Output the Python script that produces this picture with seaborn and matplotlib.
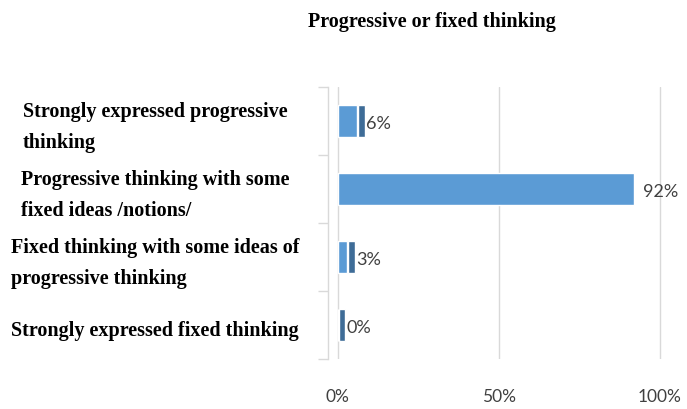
import matplotlib
matplotlib.use("Agg")
import matplotlib.pyplot as plt
import matplotlib.transforms as mtransforms
import numpy as np
import pandas as pd
import seaborn as sns

# Survey answers and their shares (%)
categories = [
    "Strongly expressed progressive\nthinking",
    "Progressive thinking with some\nfixed ideas /notions/",
    "Fixed thinking with some ideas of\nprogressive thinking",
    "Strongly expressed fixed thinking",
]
shares = [6, 92, 3, 0]
x_ticks = [0, 50, 100]
x_tick_labels = ["0%", "50%", "100%"]
title = "Progressive or fixed thinking"

FRONT = "#5B9BD5"
SIDE = "#3E6C97"
GRID = "#D9D9D9"
TEXT = "#404040"
SERIF = ["Liberation Serif", "DejaVu Serif"]
SANS = ["Lato", "DejaVu Sans"]

sns.set_theme(style="white")
plt.rcParams["font.family"] = SANS

df = pd.DataFrame({"answer": categories, "share": shares})

fig = plt.figure(figsize=(6.87, 4.10), dpi=100)
ax = fig.add_axes([0.4775, 0.122, 0.502, 0.663])

sns.barplot(data=df, x="share", y="answer", orient="h", color=FRONT,
            width=0.46, saturation=1, ax=ax, zorder=3)

# darker side face of the short bars (3-D look)
pos = np.arange(len(shares))
vals = np.array(shares, dtype=float)
short = vals < 50
ax.barh(pos[short], 2.1, left=vals[short] + 0.3, height=0.46,
        color=SIDE, zorder=3)

# value labels
for p, v in zip(pos, vals):
    ax.text(v + 2.8, p + 0.03, f"{v:.0f}%", va="center", ha="left",
            fontsize=13, color=TEXT, zorder=4)

ax.set_xlim(-3, 104)
ax.set_ylim(len(shares) - 0.5, -0.5)
ax.set_xticks(x_ticks)
ax.set_xticklabels(x_tick_labels, fontsize=12.5, color=TEXT)
ax.tick_params(axis="x", length=0, pad=21)
ax.xaxis.grid(True, color=GRID, linewidth=1)
ax.set_axisbelow(True)

# category separators on the vertical axis
ax.set_yticks(np.arange(-0.5, len(shares), 1), minor=True)
ax.tick_params(axis="y", which="minor", length=7, color=GRID, width=1,
               left=True)
ax.tick_params(axis="y", which="major", length=0)
ax.set_yticklabels([])
ax.set_xlabel("")
ax.set_ylabel("")

for side in ["top", "right", "bottom"]:
    ax.spines[side].set_visible(False)
ax.spines["left"].set_color(GRID)
ax.spines["left"].set_linewidth(1)

# category labels in a centred column with left-aligned lines
trans = mtransforms.blended_transform_factory(fig.transFigure, ax.transData)
for p, lab in zip(pos, categories):
    ax.text(155 / 687, p + 0.08, lab, transform=trans, ha="center",
            va="center", multialignment="left", fontsize=14.5,
            fontweight="bold", family=SERIF, color="black", linespacing=1.7)

fig.text(432 / 687, 1 - 22 / 410, title, ha="center", va="center",
         fontsize=14.5, fontweight="bold", family=SERIF, color="black")

fig.savefig("out.png", dpi=100)
